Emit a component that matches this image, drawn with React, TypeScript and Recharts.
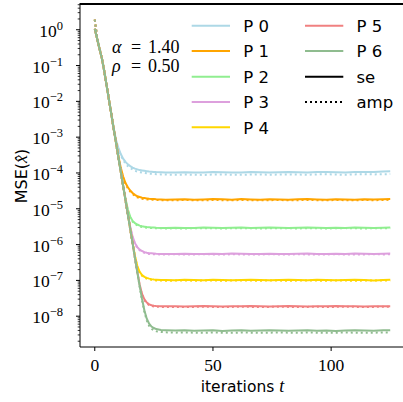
import { LineChart, Line, XAxis, YAxis } from "recharts";

const iterations = [
  0, 1, 2, 3, 4, 6, 8, 9, 10, 11, 12, 13, 14, 15, 16, 17, 18, 19, 20, 21, 22, 23, 24, 25, 26, 28,
  30, 34, 38, 42, 46, 50, 54, 58, 62, 66, 70, 74, 78, 82, 86, 90, 94, 98, 102, 106, 110, 114, 118, 122, 125,
];

// log10(MSE), one array per curve
const p0Se = [
  0.03, -0.25, -0.53, -0.8, -1.15, -1.95, -2.74, -3.08, -3.3, -3.47, -3.6, -3.69, -3.76, -3.81, -3.85, -3.88, -3.9, -3.92, -3.93, -3.94, -3.95, -3.96, -3.965, -3.97, -3.975, -3.98,
  -3.985, -3.99, -3.98, -3.99, -3.985, -3.975, -3.98, -3.99, -3.985, -3.975, -3.98, -3.985, -3.98, -3.975, -3.98, -3.985, -3.975, -3.97, -3.98, -3.985, -3.975, -3.97, -3.975, -3.96, -3.955,
];
const p0Amp = [
  0.28, -0.22, -0.52, -0.8, -1.15, -1.95, -2.75, -3.1, -3.33, -3.51, -3.64, -3.74, -3.81, -3.86, -3.9, -3.94, -3.96, -3.98, -3.99, -4.0, -4.01, -4.02, -4.025, -4.03, -4.035, -4.04,
  -4.045, -4.05, -4.045, -4.05, -4.055, -4.045, -4.04, -4.05, -4.05, -4.045, -4.04, -4.05, -4.045, -4.04, -4.045, -4.05, -4.04, -4.035, -4.045, -4.05, -4.04, -4.035, -4.04, -4.035, -4.03,
];
const p1Se = [
  0.03, -0.25, -0.53, -0.8, -1.15, -1.95, -2.76, -3.15, -3.53, -3.85, -4.1, -4.28, -4.4, -4.49, -4.56, -4.61, -4.65, -4.67, -4.69, -4.7, -4.71, -4.72, -4.725, -4.73, -4.735, -4.74,
  -4.745, -4.74, -4.735, -4.745, -4.74, -4.73, -4.735, -4.745, -4.73, -4.74, -4.745, -4.735, -4.74, -4.745, -4.735, -4.73, -4.74, -4.745, -4.735, -4.74, -4.745, -4.735, -4.74, -4.735, -4.73,
];
const p1Amp = [
  0.28, -0.22, -0.52, -0.8, -1.15, -1.95, -2.77, -3.16, -3.55, -3.88, -4.13, -4.31, -4.43, -4.52, -4.59, -4.64, -4.68, -4.7, -4.72, -4.73, -4.74, -4.745, -4.75, -4.75, -4.755, -4.76,
  -4.76, -4.765, -4.755, -4.76, -4.765, -4.755, -4.76, -4.765, -4.755, -4.76, -4.765, -4.76, -4.755, -4.765, -4.76, -4.755, -4.76, -4.765, -4.755, -4.76, -4.765, -4.755, -4.76, -4.755, -4.75,
];
const p2Se = [
  0.03, -0.25, -0.53, -0.8, -1.15, -1.95, -2.76, -3.16, -3.56, -3.96, -4.35, -4.72, -5.02, -5.22, -5.34, -5.4, -5.44, -5.47, -5.49, -5.5, -5.51, -5.515, -5.52, -5.525, -5.53, -5.535,
  -5.535, -5.53, -5.54, -5.535, -5.525, -5.53, -5.535, -5.53, -5.525, -5.535, -5.53, -5.525, -5.53, -5.535, -5.53, -5.525, -5.53, -5.535, -5.53, -5.535, -5.525, -5.53, -5.535, -5.53, -5.525,
];
const p2Amp = [
  0.28, -0.22, -0.52, -0.8, -1.15, -1.95, -2.77, -3.17, -3.57, -3.97, -4.37, -4.75, -5.05, -5.25, -5.36, -5.42, -5.46, -5.49, -5.51, -5.52, -5.53, -5.535, -5.54, -5.54, -5.545, -5.545,
  -5.55, -5.545, -5.55, -5.545, -5.54, -5.545, -5.55, -5.545, -5.54, -5.545, -5.55, -5.545, -5.54, -5.545, -5.55, -5.54, -5.545, -5.55, -5.545, -5.54, -5.545, -5.55, -5.545, -5.54, -5.545,
];
const p3Se = [
  0.03, -0.25, -0.53, -0.8, -1.15, -1.95, -2.76, -3.16, -3.56, -3.96, -4.36, -4.76, -5.14, -5.5, -5.78, -5.96, -6.07, -6.14, -6.18, -6.21, -6.23, -6.24, -6.245, -6.25, -6.255, -6.26,
  -6.26, -6.265, -6.255, -6.26, -6.265, -6.255, -6.26, -6.25, -6.255, -6.265, -6.26, -6.255, -6.26, -6.265, -6.255, -6.25, -6.26, -6.265, -6.255, -6.26, -6.25, -6.255, -6.26, -6.255, -6.25,
];
const p3Amp = [
  0.28, -0.22, -0.52, -0.8, -1.15, -1.95, -2.77, -3.17, -3.57, -3.97, -4.37, -4.77, -5.16, -5.52, -5.8, -5.98, -6.09, -6.16, -6.2, -6.23, -6.25, -6.26, -6.265, -6.27, -6.27, -6.275,
  -6.275, -6.27, -6.28, -6.275, -6.27, -6.275, -6.28, -6.27, -6.275, -6.28, -6.275, -6.27, -6.275, -6.28, -6.27, -6.275, -6.28, -6.275, -6.27, -6.275, -6.28, -6.275, -6.27, -6.275, -6.27,
];
const p4Se = [
  0.03, -0.25, -0.53, -0.8, -1.15, -1.95, -2.76, -3.16, -3.56, -3.96, -4.36, -4.76, -5.16, -5.56, -5.95, -6.32, -6.6, -6.76, -6.85, -6.9, -6.93, -6.95, -6.965, -6.975, -6.98, -6.99,
  -6.99, -6.995, -6.985, -6.99, -6.995, -6.985, -6.99, -6.995, -6.99, -6.985, -6.99, -6.995, -6.99, -6.985, -6.99, -6.995, -6.985, -6.99, -6.995, -6.99, -6.985, -6.99, -7.0, -6.99, -6.985,
];
const p4Amp = [
  0.28, -0.22, -0.52, -0.8, -1.15, -1.95, -2.77, -3.17, -3.57, -3.97, -4.37, -4.77, -5.17, -5.57, -5.97, -6.34, -6.62, -6.78, -6.87, -6.92, -6.95, -6.97, -6.985, -6.995, -7.0, -7.005,
  -7.01, -7.005, -7.0, -7.01, -7.005, -7.0, -7.01, -7.005, -7.0, -7.005, -7.01, -7.0, -7.005, -7.01, -7.005, -7.0, -7.005, -7.01, -7.0, -7.005, -7.01, -7.005, -7.0, -7.005, -7.0,
];
const p5Se = [
  0.03, -0.25, -0.53, -0.8, -1.15, -1.95, -2.76, -3.16, -3.56, -3.96, -4.36, -4.76, -5.16, -5.56, -5.96, -6.37, -6.76, -7.12, -7.38, -7.53, -7.62, -7.67, -7.695, -7.71, -7.715, -7.72,
  -7.725, -7.72, -7.73, -7.725, -7.715, -7.72, -7.73, -7.725, -7.72, -7.715, -7.725, -7.73, -7.72, -7.715, -7.72, -7.73, -7.725, -7.72, -7.715, -7.725, -7.72, -7.73, -7.725, -7.72, -7.72,
];
const p5Amp = [
  0.28, -0.22, -0.52, -0.8, -1.15, -1.95, -2.77, -3.17, -3.57, -3.97, -4.37, -4.77, -5.17, -5.57, -5.97, -6.38, -6.78, -7.14, -7.4, -7.55, -7.64, -7.69, -7.715, -7.73, -7.735, -7.74,
  -7.745, -7.74, -7.745, -7.74, -7.735, -7.74, -7.745, -7.74, -7.735, -7.74, -7.745, -7.74, -7.735, -7.74, -7.745, -7.74, -7.735, -7.745, -7.74, -7.735, -7.74, -7.745, -7.74, -7.735, -7.74,
];
const p6Se = [
  0.03, -0.25, -0.53, -0.8, -1.15, -1.95, -2.76, -3.16, -3.56, -3.96, -4.36, -4.76, -5.16, -5.56, -5.96, -6.37, -6.77, -7.16, -7.52, -7.84, -8.07, -8.21, -8.29, -8.33, -8.36, -8.385,
  -8.39, -8.4, -8.395, -8.405, -8.4, -8.395, -8.41, -8.4, -8.395, -8.405, -8.4, -8.395, -8.4, -8.405, -8.4, -8.395, -8.405, -8.4, -8.41, -8.4, -8.395, -8.4, -8.405, -8.395, -8.39,
];
const p6Amp = [
  0.28, -0.22, -0.52, -0.8, -1.15, -1.95, -2.77, -3.17, -3.57, -3.97, -4.37, -4.77, -5.17, -5.57, -5.97, -6.38, -6.78, -7.18, -7.55, -7.88, -8.12, -8.27, -8.35, -8.4, -8.42, -8.44,
  -8.45, -8.46, -8.455, -8.46, -8.465, -8.455, -8.46, -8.465, -8.455, -8.46, -8.465, -8.46, -8.455, -8.46, -8.465, -8.455, -8.46, -8.465, -8.46, -8.455, -8.46, -8.465, -8.46, -8.455, -8.46,
];

const seriesLabels = ["P 0", "P 1", "P 2", "P 3", "P 4", "P 5", "P 6"];
const seriesColors = ["#add8e6", "#ffa500", "#90ee90", "#dda0dd", "#ffd700", "#f08080", "#8fbc8f"];
const seCurves = [p0Se, p1Se, p2Se, p3Se, p4Se, p5Se, p6Se];
const ampCurves = [p0Amp, p1Amp, p2Amp, p3Amp, p4Amp, p5Amp, p6Amp];

const xTicks = [0, 50, 100];
const yTicks = [1e-8, 1e-7, 1e-6, 1e-5, 1e-4, 1e-3, 1e-2, 1e-1, 1];
const yTickExps = ["−8", "−7", "−6", "−5", "−4", "−3", "−2", "−1", "0"];
const minorMantissas = [2, 3, 4, 5, 6, 7, 8, 9];
const minorDecades = [1e-9, 1e-8, 1e-7, 1e-6, 1e-5, 1e-4, 1e-3, 1e-2, 1e-1, 1];

const X_DOMAIN = [-6.25, 131.25];
const Y_DOMAIN = [1.38e-9, 5.58];

const yMinorTicks = minorDecades
  .flatMap((d) => minorMantissas.map((m) => m * d))
  .filter((v) => v > Y_DOMAIN[0] && v < Y_DOMAIN[1]);
const yAllTicks = [...yTicks, ...yMinorTicks].sort((a, b) => a - b);

const rows = iterations.map((t, i) => {
  const row: Record<string, number> = { t };
  seCurves.forEach((c, k) => {
    row[`se${k}`] = Math.pow(10, c[i]);
  });
  ampCurves.forEach((c, k) => {
    row[`amp${k}`] = Math.pow(10, c[i]);
  });
  return row;
});

const SERIF = "'Liberation Serif', 'DejaVu Serif', serif";
const SANS = "'DejaVu Sans', sans-serif";

// draws tick mark + label itself, so major and minor ticks can differ in length
function YTick(props: any) {
  const { x, y, payload } = props;
  const idx = yTicks.findIndex((v) => Math.abs(Math.log10(v) - Math.log10(payload.value)) < 1e-6);
  if (idx < 0) {
    return <line x1={x - 2.3} x2={x} y1={y} y2={y} stroke="#000" strokeWidth={0.8} />;
  }
  return (
    <g>
      <line x1={x - 4} x2={x} y1={y} y2={y} stroke="#000" strokeWidth={1} />
      <text x={x - 17} y={y} dy={7} textAnchor="end" fontFamily={SERIF} fontSize={17.5} fill="#000">
        10
        <tspan dy={-7} fontSize={12.5}>
          {yTickExps[idx]}
        </tspan>
      </text>
    </g>
  );
}

function XTick(props: any) {
  const { x, y, payload } = props;
  return (
    <text x={x} y={y} dy={18} textAnchor="middle" fontFamily={SERIF} fontSize={17.5} fill="#000">
      {payload.value}
    </text>
  );
}

function LegendOverlay() {
  const rowsY = [25.7, 51, 76.7, 102, 127.3];
  const items = [
    ...seriesLabels.map((l, i) => ({ label: l, color: seriesColors[i], dashed: false })),
    { label: "se", color: "#000", dashed: false },
    { label: "amp", color: "#000", dashed: true },
  ];
  return (
    <g>
      {items.map((it, i) => {
        const col = i < 5 ? 0 : 1;
        const y = rowsY[col === 0 ? i : i - 5];
        const x0 = col === 0 ? 191.7 : 305;
        return (
          <g key={it.label}>
            <line
              x1={x0}
              x2={x0 + 38.3}
              y1={y}
              y2={y}
              stroke={it.color}
              strokeWidth={2}
              strokeDasharray={it.dashed ? "2 3" : undefined}
            />
            <text x={x0 + 51.5} y={y + 6.2} fontFamily={SANS} fontSize={16.5} fill="#000">
              {it.label}
            </text>
          </g>
        );
      })}
    </g>
  );
}

export default function App() {
  return (
    <div
      style={{
        position: "fixed",
        left: 0,
        top: 0,
        width: 403,
        height: 402,
        overflow: "hidden",
        background: "#fff",
      }}
    >
      <LineChart width={410} height={402} data={rows} margin={{ top: 3, right: 5, bottom: 0, left: 0 }}>
        <XAxis
          dataKey="t"
          type="number"
          domain={X_DOMAIN}
          allowDataOverflow
          ticks={xTicks}
          interval={0}
          height={55}
          stroke="#000"
          tickSize={4}
          tickMargin={2}
          tick={<XTick />}
        />
        <YAxis
          type="number"
          scale="log"
          domain={Y_DOMAIN}
          allowDataOverflow
          ticks={yAllTicks}
          interval={0}
          width={80}
          stroke="#000"
          tickLine={false}
          tickSize={0}
          tickMargin={0}
          tick={<YTick />}
        />
        {seriesColors.flatMap((c, k) => [
          <Line
            key={`se${k}`}
            type="linear"
            dataKey={`se${k}`}
            stroke={c}
            strokeWidth={2}
            dot={false}
            isAnimationActive={false}
          />,
          <Line
            key={`amp${k}`}
            type="linear"
            dataKey={`amp${k}`}
            stroke={c}
            strokeWidth={2}
            strokeDasharray="2 3"
            dot={false}
            isAnimationActive={false}
          />,
        ])}
      </LineChart>
      {/* top spine of the axes box */}
      <div
        style={{
          position: "absolute",
          left: 79.5,
          top: 3,
          width: 330,
          height: 1.5,
          background: "#000",
        }}
      />
      <svg
        width={403}
        height={402}
        style={{ position: "absolute", left: 0, top: 0, pointerEvents: "none" }}
      >
        <LegendOverlay />
        <text x={112} y={53} fontFamily={SERIF} fontSize={18} fontStyle="italic" fill="#000">
          α
        </text>
        <text x={131} y={53} fontFamily={SERIF} fontSize={18} fill="#000">
          =
        </text>
        <text x={148} y={53} fontFamily={SERIF} fontSize={18} fill="#000">
          1.40
        </text>
        <text x={112} y={72} fontFamily={SERIF} fontSize={18} fontStyle="italic" fill="#000">
          ρ
        </text>
        <text x={131} y={72} fontFamily={SERIF} fontSize={18} fill="#000">
          =
        </text>
        <text x={148} y={72} fontFamily={SERIF} fontSize={18} fill="#000">
          0.50
        </text>
        <text x={242.5} y={392} textAnchor="middle" fontFamily={SANS} fontSize={15.5} fill="#000">
          iterations{" "}
          <tspan fontFamily={SERIF} fontStyle="italic" fontSize={18}>
            t
          </tspan>
        </text>
        <text
          transform="translate(27,176) rotate(-90)"
          textAnchor="middle"
          fontFamily={SANS}
          fontSize={16}
          fill="#000"
        >
          MSE(
          <tspan fontFamily={SERIF} fontStyle="italic" fontSize={18}>
            x̂
          </tspan>
          )
        </text>
      </svg>
    </div>
  );
}
